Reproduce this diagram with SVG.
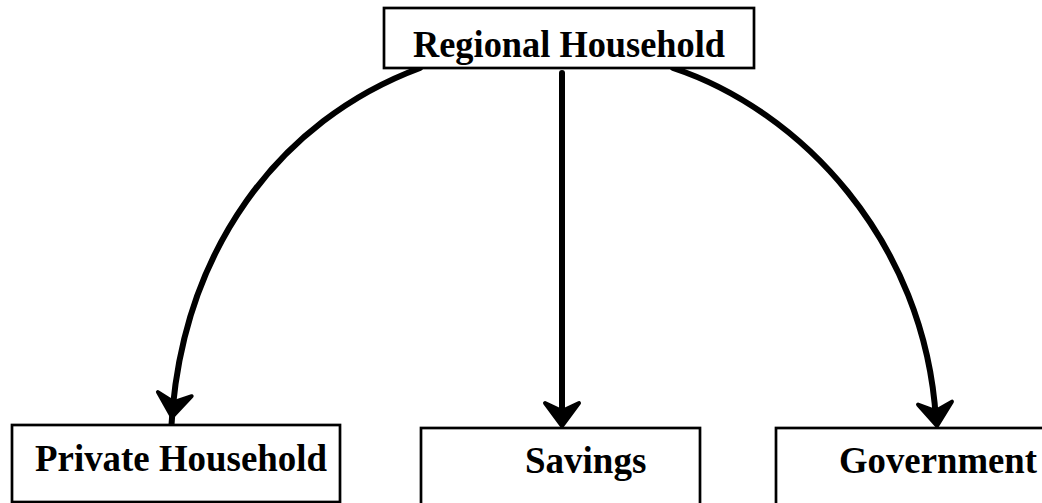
<svg xmlns="http://www.w3.org/2000/svg" xmlns:xlink="http://www.w3.org/1999/xlink" width="1042" height="503" viewBox="0 0 1042 503">
<style>
.box{fill:#fff;stroke:#000;stroke-width:2.7}
.lbl{font-family:"Liberation Serif","Times New Roman",serif;font-weight:bold;font-size:37px;fill:#000}
.con{fill:none;stroke:#000;stroke-width:6;stroke-linecap:round}
.ah{fill:#000;stroke:#000;stroke-width:4;stroke-linejoin:round}
</style>
<defs>
<path id="ah" class="ah" d="M0 0 L-17 -23 L0 -15 L17 -23 Z"/>
</defs>
<rect width="1042" height="503" fill="#fff"/>
<g id="connectors">
<path class="con" d="M420 68 C280 120 180 250 171 432"/>
<use xlink:href="#ah" transform="translate(172,417) rotate(7)"/>
<path class="con" d="M562 73 L562 420"/>
<use xlink:href="#ah" transform="translate(562,426)"/>
<path class="con" d="M673 68 C800 110 925 240 936 420"/>
<use xlink:href="#ah" transform="translate(937,426) rotate(-5)"/>
</g>
<g id="regional">
<rect class="box" x="384" y="8" width="370" height="60"/>
<text class="lbl" x="413" y="57" textLength="312" lengthAdjust="spacingAndGlyphs">Regional Household</text>
</g>
<g id="private">
<rect class="box" x="12" y="425" width="328" height="77"/>
<text class="lbl" x="35" y="471" textLength="292" lengthAdjust="spacingAndGlyphs">Private Household</text>
</g>
<g id="savings">
<rect class="box" x="421" y="428" width="279" height="80"/>
<text class="lbl" x="525" y="473">Savings</text>
</g>
<g id="government">
<rect class="box" x="776" y="428" width="280" height="80"/>
<text class="lbl" x="839" y="473" textLength="198" lengthAdjust="spacingAndGlyphs">Government</text>
</g>
</svg>
